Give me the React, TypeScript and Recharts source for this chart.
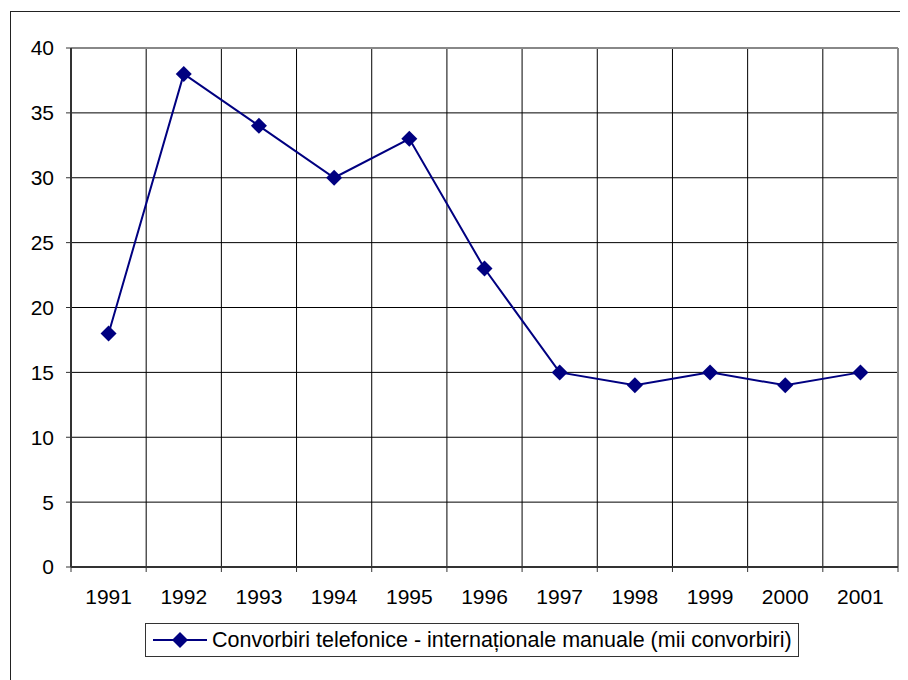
import React from "react"
import {
  LineChart,
  Line,
  XAxis,
  YAxis,
  CartesianGrid,
  ReferenceLine,
  Legend,
} from "recharts"

const YEARS = ["1991", "1992", "1993", "1994", "1995", "1996", "1997", "1998", "1999", "2000", "2001"]
const CALLS = [18, 38, 34, 30, 33, 23, 15, 14, 15, 14, 15]
const Y_TICKS = [0, 5, 10, 15, 20, 25, 30, 35, 40]
const SERIES_NAME = "Convorbiri telefonice - internaționale manuale (mii convorbiri)"

const NAVY = "#000080"
const FONT = "'Liberation Sans', Arial, sans-serif"
const FS = 21

const CHART_W = 900
const CHART_H = 672
const MARGIN = { top: 40, right: 10, left: 0, bottom: 73 }
const Y_AXIS_W = 63
const BAND = (CHART_W - MARGIN.left - MARGIN.right - Y_AXIS_W) / YEARS.length

// points sit in the middle of each year's band, ticks/grid on the band edges
const data = YEARS.map((year, i) => ({ x: i + 0.5, year, calls: CALLS[i] }))
const edgeTicks = [...YEARS.map((_, i) => i), YEARS.length]

function YearTick(props: any) {
  const { x, y, payload } = props
  const idx = payload.value
  if (idx >= YEARS.length) return <g />
  return (
    <text x={x + BAND / 2} y={y} dy="0.71em" textAnchor="middle" fontSize={FS} fill="#000" fontFamily={FONT}>
      {YEARS[idx]}
    </text>
  )
}

function Diamond(props: any) {
  const { cx, cy } = props
  if (cx == null || cy == null) return <g />
  const r = 8
  return <polygon points={`${cx},${cy - r} ${cx + r},${cy} ${cx},${cy + r} ${cx - r},${cy}`} fill={NAVY} />
}

function LegendBox() {
  return (
    <div
      style={{
        display: "flex",
        alignItems: "center",
        border: "1px solid #333",
        height: 34,
        padding: "0 6px",
        fontFamily: FONT,
        fontSize: 21.5,
        color: "#000",
        boxSizing: "border-box",
        background: "#fff",
        whiteSpace: "nowrap",
      }}
    >
      <svg width={56} height={18} style={{ marginRight: 4 }}>
        <line x1={1} y1={9} x2={55} y2={9} stroke={NAVY} strokeWidth={2} />
        <polygon points="28,1 36,9 28,17 20,9" fill={NAVY} />
      </svg>
      <span>{SERIES_NAME}</span>
    </div>
  )
}

export default function App() {
  return (
    <div style={{ position: "relative", width: CHART_W, height: CHART_H, overflow: "hidden", fontFamily: FONT }}>
      <div
        style={{
          position: "absolute",
          left: 2,
          top: 3,
          width: 960,
          height: 760,
          border: "1.5px solid #222",
        }}
      />
      <LineChart width={CHART_W} height={CHART_H} data={data} margin={MARGIN}>
        <CartesianGrid stroke="#000" strokeWidth={1} />
        <XAxis
          dataKey="x"
          type="number"
          domain={[0, YEARS.length]}
          ticks={edgeTicks}
          interval={0}
          height={40}
          tickSize={5}
          tickMargin={17}
          tick={<YearTick />}
          axisLine={{ stroke: "#333", strokeWidth: 2 }}
          tickLine={{ stroke: "#333" }}
        />
        <YAxis
          domain={[0, 40]}
          ticks={Y_TICKS}
          interval={0}
          width={Y_AXIS_W}
          tickSize={5}
          tickMargin={12}
          tick={{ fontSize: FS, fill: "#000", fontFamily: FONT }}
          axisLine={{ stroke: "#333", strokeWidth: 2 }}
          tickLine={{ stroke: "#333" }}
        />
        <ReferenceLine y={40} stroke="#888" strokeWidth={2} />
        <ReferenceLine x={YEARS.length} stroke="#888" strokeWidth={2} />
        <Legend
          layout="horizontal"
          verticalAlign="middle"
          align="center"
          content={<LegendBox />}
          wrapperStyle={{ left: 137, top: 615, width: "auto" }}
        />
        <Line
          dataKey="calls"
          name={SERIES_NAME}
          stroke={NAVY}
          strokeWidth={2}
          dot={<Diamond />}
          activeDot={false}
          isAnimationActive={false}
        />
      </LineChart>
    </div>
  )
}
